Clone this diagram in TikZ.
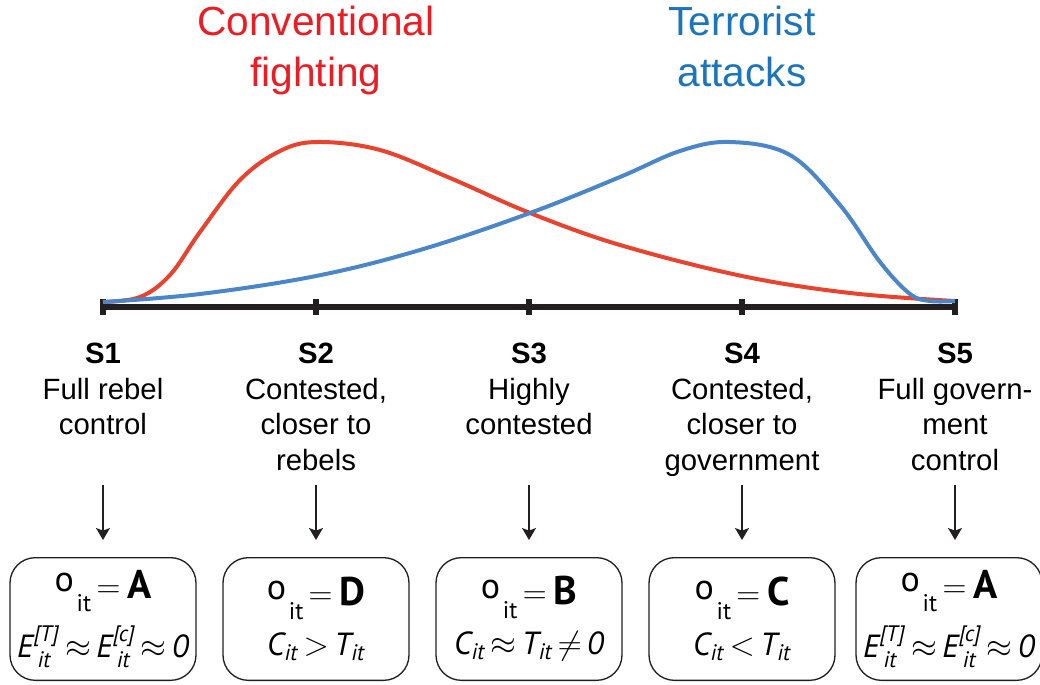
\documentclass[tikz,border=0pt]{standalone}
\usepackage{fontspec}
\setmainfont{Liberation Sans}
\newfontfamily\boxfont{PT Sans}
\usepackage{amsmath}
\usepackage{tikz}
\usetikzlibrary{positioning, arrows.meta}

\definecolor{convred}{RGB}{233,66,46}
\definecolor{convtitle}{RGB}{236,28,36}
\definecolor{terrblue}{RGB}{74,134,200}
\definecolor{terrtitle}{RGB}{28,117,188}
\definecolor{axisblack}{RGB}{35,31,32}

% first line of an outcome box: o_it = <letter>
\newcommand{\obsline}[1]{%
  \raisebox{5pt}{\fontsize{27}{28}\selectfont o}\hspace{2pt}%
  \raisebox{-10pt}{\fontsize{18}{19}\selectfont it}%
  \hspace{4pt}\raisebox{1pt}{\fontsize{30}{30}\selectfont$=$}\hspace{5pt}%
  {\fontsize{30}{30}\selectfont\bfseries #1}}
% E with stacked [x] and it
\newcommand{\Eit}[1]{\ensuremath{\text{E}^{\text{[#1]}}_{\hspace{3pt}\text{it}}}}
\newcommand{\Xit}[1]{\ensuremath{\text{#1}_{\text{it}}}}
\newcommand{\rel}[1]{\ensuremath{\mskip3mu#1\mskip3mu}}

\begin{document}
\begin{tikzpicture}[
  x=0.75pt, y=-0.75pt,
  title/.style={align=center, inner sep=0pt, anchor=north,
                font=\fontsize{30.5}{38.25}\selectfont},
  state/.style={align=center, inner sep=0pt, anchor=north,
                font=\fontsize{22}{26.7}\selectfont},
  outcome/.style={draw=axisblack, line width=1pt, rounded corners=19pt,
                  minimum width=139.5pt, minimum height=92pt, inner sep=0pt,
                  align=center, font=\boxfont},
  flow/.style={draw=axisblack, line width=1.1pt,
               -{Stealth[length=9pt, width=10.5pt, inset=2pt]},
               shorten >=12.75pt},
  tick/.style={draw=axisblack, line width=4.5pt},
  curve/.style={line width=3pt, line join=round}]

\useasboundingbox (0,0) rectangle (1040,685);

% titles
\node[title, text=convtitle] (conv) at (316,6) {Conventional\\fighting};
\node[title, text=terrtitle] (terr) at (742,6) {Terrorist\\attacks};

% the scale of control
\coordinate (p1) at (103,307);
\coordinate (p2) at (316,307);
\coordinate (p3) at (529,307);
\coordinate (p4) at (742,307);
\coordinate (p5) at (955,307);
\draw[axisblack, line width=4.5pt] (p1) -- (p5);
\draw[tick] (103,299) -- (103,315);
\draw[tick] (316,299) -- (316,315);
\draw[tick] (529,299) -- (529,315);
\draw[tick] (742,299) -- (742,315);
\draw[tick] (955,299) -- (955,315);

% intensity curves
\draw[curve, convred] plot[smooth, tension=0.6] coordinates {
  (103,302) (140,297) (170,275) (200,232) (240,180) (280,151) (318,142)
  (380,150) (450,178) (530,213) (620,245) (742,276) (850,293) (955,301)};
\draw[curve, terrblue] plot[smooth, tension=0.6] coordinates {
  (103,302) (200,294) (316,276) (420,250) (530,213) (620,177) (680,151)
  (730,142) (790,155) (840,205) (880,262) (910,294) (930,301) (955,301)};

% states
\node[state] (s1) at (103,343) {\textbf{S1}\\Full rebel\\control};
\node[state] (s2) at (316,343) {\textbf{S2}\\Contested,\\closer to\\rebels};
\node[state] (s3) at (529,343) {\textbf{S3}\\Highly\\contested};
\node[state] (s4) at (742,343) {\textbf{S4}\\Contested,\\closer to\\government};
\node[state] (s5) at (955,343) {\textbf{S5}\\Full govern-\\ment\\control};

% outcomes
\node[outcome] (o1) at (103,619) {\obsline{A}\\[9pt]
  {\fontsize{24}{26}\selectfont\itshape \Eit{T}\rel{\approx}\Eit{c}\rel{\approx}0}};
\node[outcome] (o2) at (316,619) {\obsline{D}\\[9pt]
  {\fontsize{24}{26}\selectfont\itshape \Xit{C}\rel{>}\Xit{T}}};
\node[outcome] (o3) at (529,619) {\obsline{B}\\[9pt]
  {\fontsize{24}{26}\selectfont\itshape \Xit{C}\rel{\approx}\Xit{T}\rel{\neq}0}};
\node[outcome] (o4) at (742,619) {\obsline{C}\\[9pt]
  {\fontsize{24}{26}\selectfont\itshape \Xit{C}\rel{<}\Xit{T}}};
\node[outcome] (o5) at (949,619) {\obsline{A}\\[9pt]
  {\fontsize{24}{26}\selectfont\itshape \Eit{T}\rel{\approx}\Eit{c}\rel{\approx}0}};

% arrows down to the outcomes
\coordinate (a1) at (103,485);
\coordinate (a2) at (316,485);
\coordinate (a3) at (529,485);
\coordinate (a4) at (742,485);
\coordinate (a5) at (955,485);
\draw[flow] (a1) -- (o1.north);
\draw[flow] (a2) -- (o2.north);
\draw[flow] (a3) -- (o3.north);
\draw[flow] (a4) -- (o4.north);
\draw[flow] (a5) -- (a5 |- o5.north);
\end{tikzpicture}
\end{document}
